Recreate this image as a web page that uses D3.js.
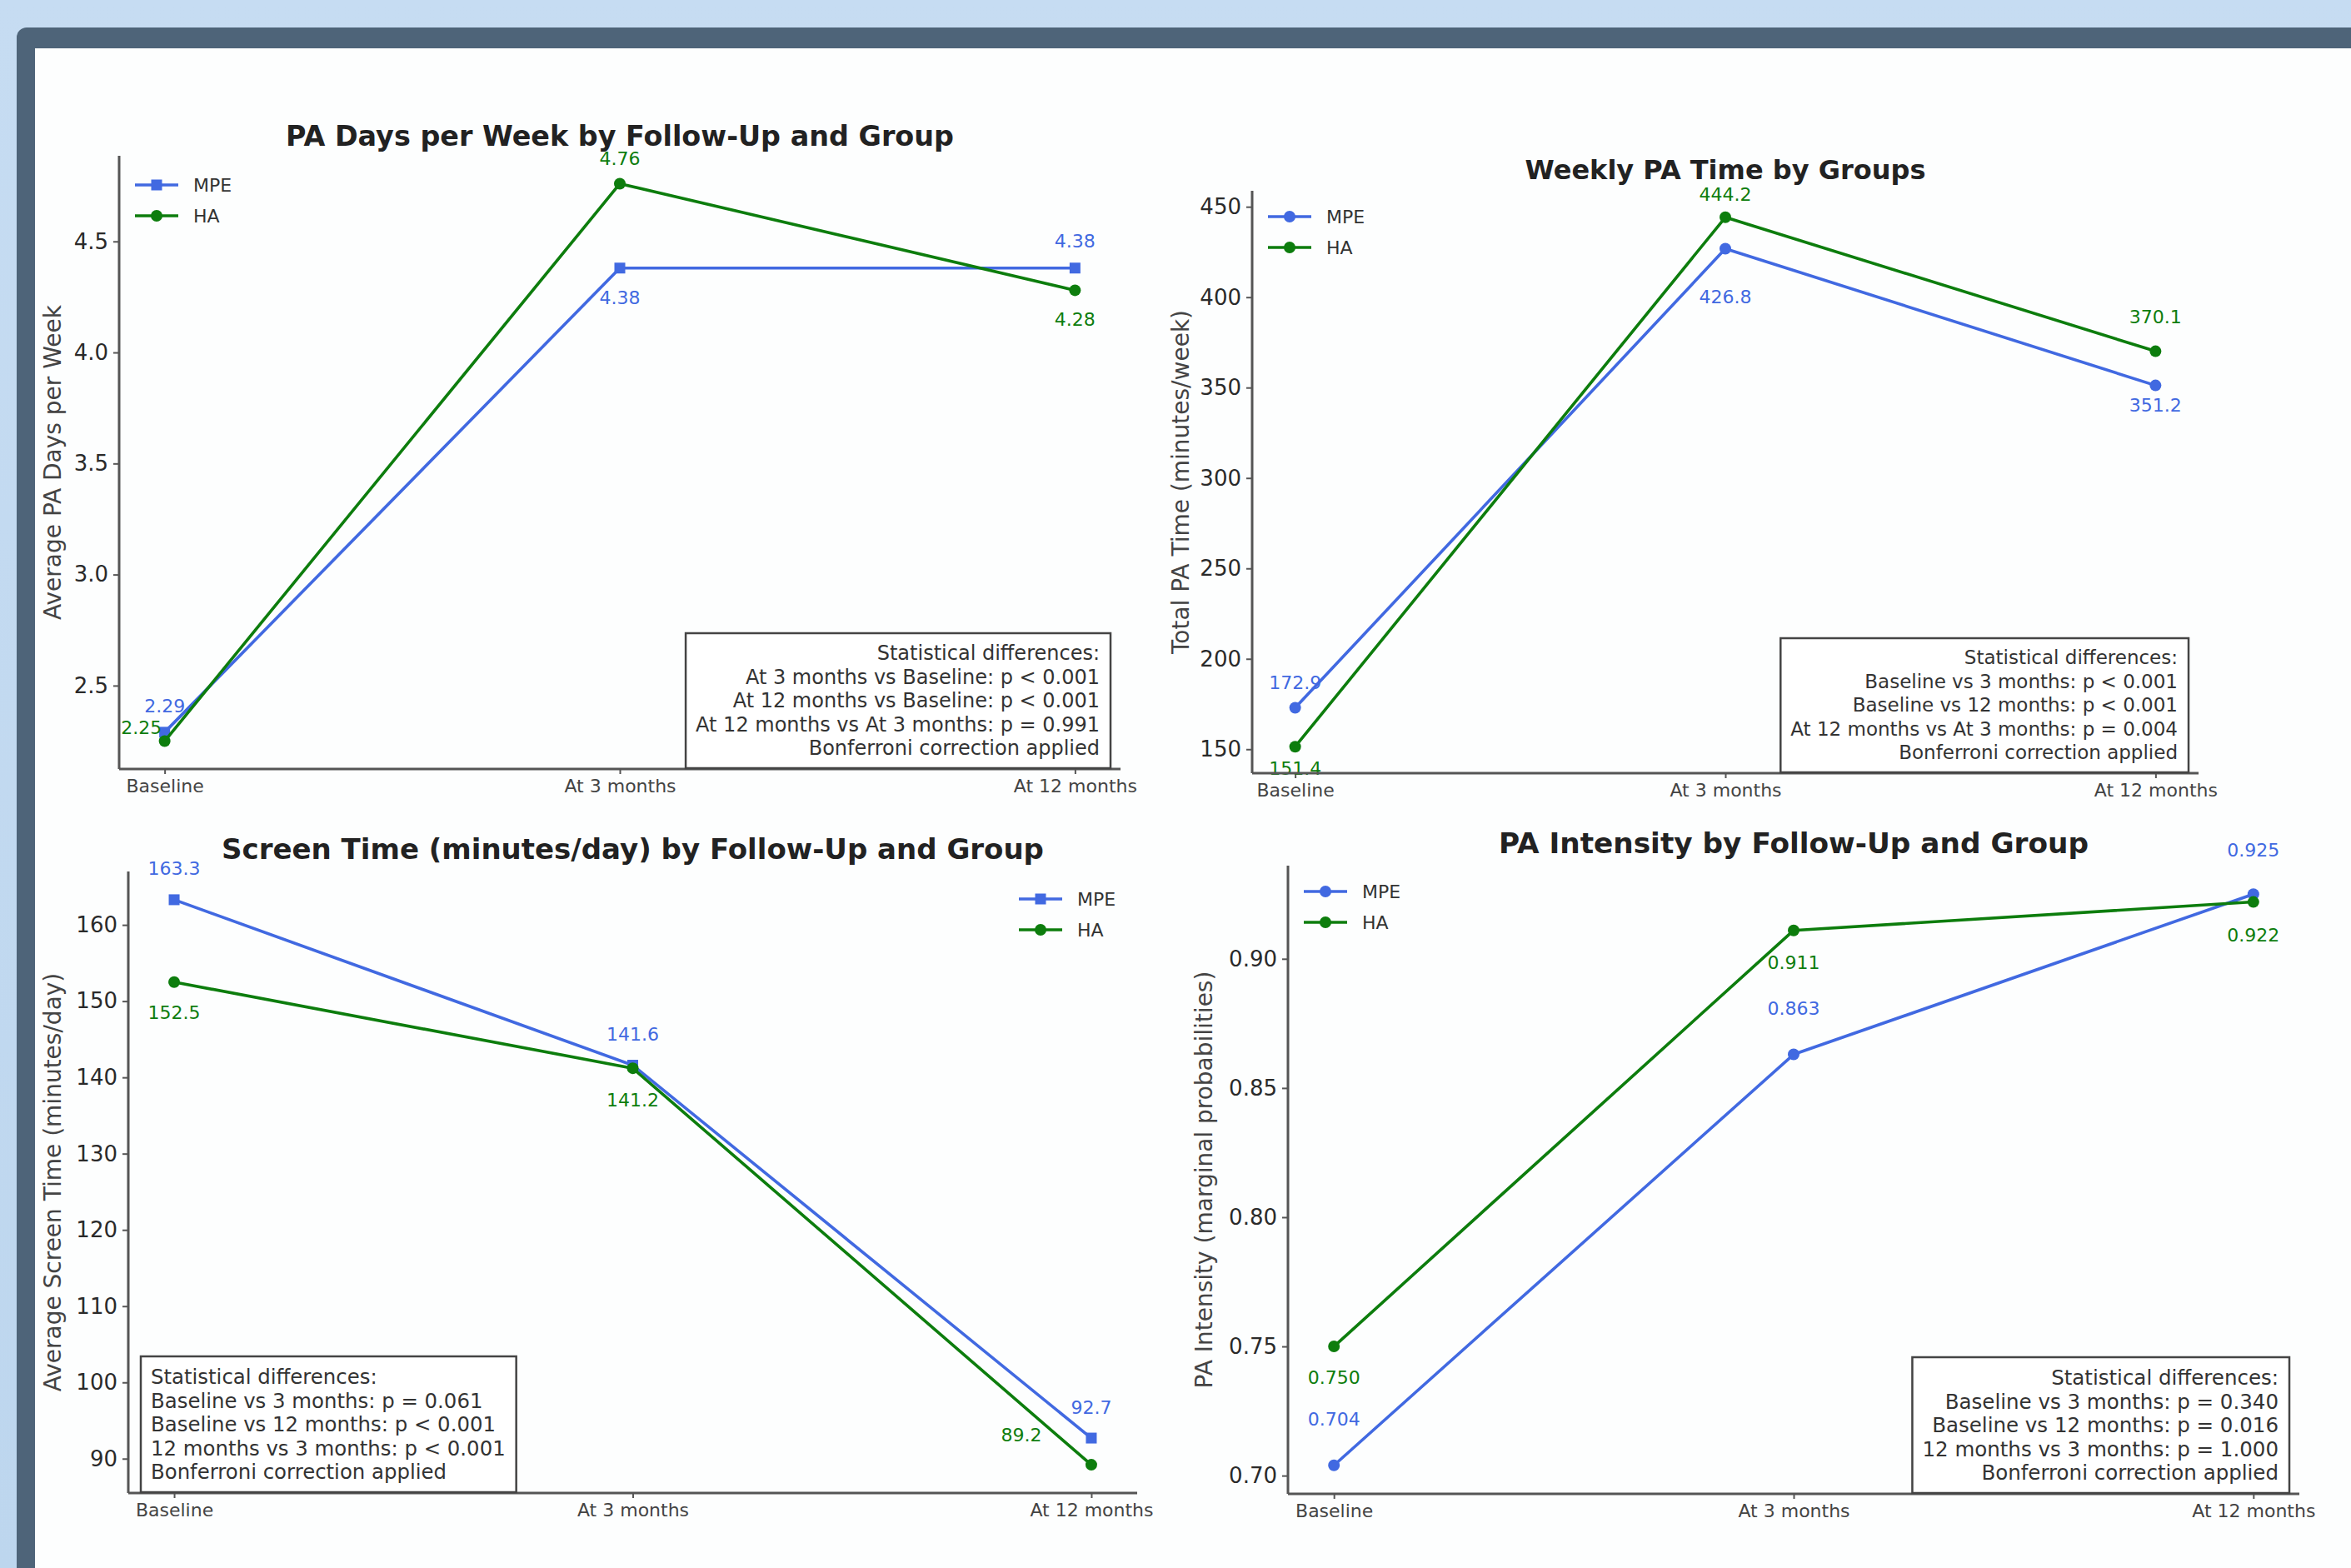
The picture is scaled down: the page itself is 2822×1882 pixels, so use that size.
<!DOCTYPE html>
<html>
<head>
<meta charset="utf-8">
<script src="https://cdn.jsdelivr.net/npm/d3@7"></script>
<style>
  html, body { margin: 0; padding: 0; background: #c3daf0; }
  svg { display: block; }
</style>
</head>
<body>
<svg id="chart" width="2822" height="1882"></svg>
<script>
// ---------------- DATA ----------------
const categories = ["Baseline", "At 3 months", "At 12 months"];
const seriesNames = ["MPE", "HA"];

const paDaysMPE = [2.29, 4.38, 4.38];
const paDaysHA  = [2.25, 4.76, 4.28];
const paDaysTicks = [2.5, 3.0, 3.5, 4.0, 4.5];

const paTimeMPE = [172.9, 426.8, 351.2];
const paTimeHA  = [151.4, 444.2, 370.1];
const paTimeTicks = [150, 200, 250, 300, 350, 400, 450];

const screenMPE = [163.3, 141.6, 92.7];
const screenHA  = [152.5, 141.2, 89.2];
const screenTicks = [90, 100, 110, 120, 130, 140, 150, 160];

const intensityMPE = [0.704, 0.863, 0.925];
const intensityHA  = [0.750, 0.911, 0.922];
const intensityTicks = [0.70, 0.75, 0.80, 0.85, 0.90];

const titles = [
  "PA Days per Week by Follow-Up and Group",
  "Weekly PA Time by Groups",
  "Screen Time (minutes/day) by Follow-Up and Group",
  "PA Intensity by Follow-Up and Group"
];
const yLabels = [
  "Average PA Days per Week",
  "Total PA Time (minutes/week)",
  "Average Screen Time (minutes/day)",
  "PA Intensity (marginal probabilities)"
];
const statsPaDays = [
  "Statistical differences:",
  "At 3 months vs Baseline: p < 0.001",
  "At 12 months vs Baseline: p < 0.001",
  "At 12 months vs At 3 months: p = 0.991",
  "Bonferroni correction applied"
];
const statsPaTime = [
  "Statistical differences:",
  "Baseline vs 3 months: p < 0.001",
  "Baseline vs 12 months: p < 0.001",
  "At 12 months vs At 3 months: p = 0.004",
  "Bonferroni correction applied"
];
const statsScreen = [
  "Statistical differences:",
  "Baseline vs 3 months: p = 0.061",
  "Baseline vs 12 months: p < 0.001",
  "12 months vs 3 months: p < 0.001",
  "Bonferroni correction applied"
];
const statsIntensity = [
  "Statistical differences:",
  "Baseline vs 3 months: p = 0.340",
  "Baseline vs 12 months: p = 0.016",
  "12 months vs 3 months: p = 1.000",
  "Bonferroni correction applied"
];

// ---------------- STYLE / LAYOUT ----------------
const FONT = "'DejaVu Sans', sans-serif";
const BLUE = "#4169e1";
const GREEN = "#0d7d0d";
const AXIS = "#555";

const panels = [
  { title: titles[0], ylabel: yLabels[0], mpe: paDaysMPE, ha: paDaysHA, ticks: paDaysTicks,
    tickFmt: d3.format(".1f"), labFmt: d3.format(".2f"), mpeMarker: "square",
    ax: {l: 143, r: 1345, t: 187, b: 923}, titleY: 175, titleSize: 33.4, ylabX: 63,
    legend: {x: 162, y: 222},
    stats: statsPaDays, statsAlign: "right", statsSize: 24,
    offMPE: [[0,-31],[0,36],[0,-32]], offHA: [[-28,-16],[0,-30],[0,35]] },
  { title: titles[1], ylabel: yLabels[1], mpe: paTimeMPE, ha: paTimeHA, ticks: paTimeTicks,
    tickFmt: d3.format("d"), labFmt: d3.format(".1f"), mpeMarker: "circle",
    ax: {l: 1503, r: 2639, t: 229, b: 928}, titleY: 215, titleSize: 32, ylabX: 1417,
    legend: {x: 1522, y: 260},
    stats: statsPaTime, statsAlign: "right", statsSize: 23,
    offMPE: [[0,-30],[0,58],[0,24]], offHA: [[0,26],[0,-27],[0,-41]] },
  { title: titles[2], ylabel: yLabels[2], mpe: screenMPE, ha: screenHA, ticks: screenTicks,
    tickFmt: d3.format("d"), labFmt: d3.format(".1f"), mpeMarker: "square",
    ax: {l: 154, r: 1365, t: 1046, b: 1792}, titleY: 1031, titleSize: 34, ylabX: 63,
    legend: {x: 1223, y: 1079},
    stats: statsScreen, statsAlign: "left", statsSize: 24.4,
    offMPE: [[0,-37],[0,-37],[0,-37]], offHA: [[0,37],[0,38],[-84,-36]] },
  { title: titles[3], ylabel: yLabels[3], mpe: intensityMPE, ha: intensityHA, ticks: intensityTicks,
    tickFmt: d3.format(".2f"), labFmt: d3.format(".3f"), mpeMarker: "circle",
    ax: {l: 1546, r: 2760, t: 1039, b: 1793}, titleY: 1024, titleSize: 34.3, ylabX: 1445,
    legend: {x: 1565, y: 1070},
    stats: statsIntensity, statsAlign: "right", statsSize: 24.5,
    offMPE: [[0,-55],[0,-55],[0,-53]], offHA: [[0,37],[0,39],[0,40]] }
];

// ---------------- FRAME ----------------
const svg = d3.select("#chart");
const defs = svg.append("defs");
const bgGrad = defs.append("linearGradient").attr("id", "bg").attr("x1", 0).attr("y1", 0).attr("x2", 0).attr("y2", 1);
bgGrad.append("stop").attr("offset", "0").attr("stop-color", "#c6dcf2");
bgGrad.append("stop").attr("offset", "1").attr("stop-color", "#bdd6ee");
svg.append("rect").attr("width", 2822).attr("height", 1882).attr("fill", "url(#bg)");
svg.append("rect").attr("x", 20).attr("y", 33).attr("width", 2840).attr("height", 1900)
  .attr("rx", 12).attr("fill", "#4e6479");
svg.append("rect").attr("x", 42).attr("y", 58).attr("width", 2800).attr("height", 1830)
  .attr("fill", "#fdfefe");

// ---------------- PANELS ----------------
function drawMarker(g, type, x, y, color) {
  if (type === "square") {
    g.append("rect").attr("x", x - 6.5).attr("y", y - 6.5).attr("width", 13).attr("height", 13).attr("fill", color);
  } else {
    g.append("circle").attr("cx", x).attr("cy", y).attr("r", 7).attr("fill", color);
  }
}

panels.forEach(p => {
  const g = svg.append("g");
  const vals = p.mpe.concat(p.ha);
  const mn = d3.min(vals), mx = d3.max(vals), pad = (mx - mn) * 0.05;
  const y = d3.scaleLinear().domain([mn - pad, mx + pad]).range([p.ax.b, p.ax.t]);
  const x = d3.scalePoint().domain(categories).range([p.ax.l, p.ax.r]).padding(0.1);

  // title
  g.append("text").attr("x", (p.ax.l + p.ax.r) / 2).attr("y", p.titleY)
    .attr("text-anchor", "middle").attr("font-family", FONT).attr("font-weight", "bold")
    .attr("font-size", p.titleSize).attr("fill", "#222").text(p.title);

  // y label
  g.append("text").attr("transform", `translate(${p.ylabX},${(p.ax.t + p.ax.b) / 2}) rotate(-90)`)
    .attr("text-anchor", "middle").attr("dominant-baseline", "central")
    .attr("font-family", FONT).attr("font-size", 28).attr("fill", "#444").text(p.ylabel);

  // axes
  const yAxis = d3.axisLeft(y).tickValues(p.ticks).tickFormat(p.tickFmt).tickSize(7).tickPadding(6);
  const gy = g.append("g").attr("transform", `translate(${p.ax.l},0)`).call(yAxis);
  gy.select(".domain").remove();
  gy.selectAll(".tick line").attr("stroke", AXIS).attr("stroke-width", 2);
  gy.selectAll(".tick text").attr("font-family", FONT).attr("font-size", 26).attr("fill", "#2a2a2a");
  g.append("line").attr("x1", p.ax.l).attr("x2", p.ax.l).attr("y1", p.ax.t).attr("y2", p.ax.b)
    .attr("stroke", AXIS).attr("stroke-width", 3);

  const xAxis = d3.axisBottom(x).tickSize(6).tickPadding(6);
  const gx = g.append("g").attr("transform", `translate(0,${p.ax.b})`).call(xAxis);
  gx.select(".domain").remove();
  gx.selectAll(".tick line").attr("stroke", AXIS).attr("stroke-width", 2);
  gx.selectAll(".tick text").attr("font-family", FONT).attr("font-size", 22).attr("fill", "#444");

  // series
  const series = [
    {name: seriesNames[0], vals: p.mpe, color: BLUE, marker: p.mpeMarker, off: p.offMPE},
    {name: seriesNames[1], vals: p.ha, color: GREEN, marker: "circle", off: p.offHA}
  ];
  const line = d3.line().x((d, i) => x(categories[i])).y(d => y(d));
  series.forEach(s => {
    g.append("path").datum(s.vals).attr("d", line).attr("fill", "none")
      .attr("stroke", s.color).attr("stroke-width", 3.6).attr("stroke-linejoin", "round");
    s.vals.forEach((v, i) => drawMarker(g, s.marker, x(categories[i]), y(v), s.color));
    s.vals.forEach((v, i) => {
      g.append("text").attr("x", x(categories[i]) + s.off[i][0]).attr("y", y(v) + s.off[i][1])
        .attr("text-anchor", "middle").attr("dominant-baseline", "central")
        .attr("font-family", FONT).attr("font-size", 22).attr("fill", s.color)
        .text(p.labFmt(v));
    });
  });

  // bottom spine on top
  g.append("line").attr("x1", p.ax.l).attr("x2", p.ax.r).attr("y1", p.ax.b).attr("y2", p.ax.b)
    .attr("stroke", AXIS).attr("stroke-width", 3);

  // legend
  series.forEach((s, i) => {
    const ly = p.legend.y + i * 37;
    g.append("line").attr("x1", p.legend.x).attr("x2", p.legend.x + 52).attr("y1", ly).attr("y2", ly)
      .attr("stroke", s.color).attr("stroke-width", 3.6);
    drawMarker(g, s.marker, p.legend.x + 26, ly, s.color);
    g.append("text").attr("x", p.legend.x + 70).attr("y", ly).attr("dominant-baseline", "central")
      .attr("font-family", FONT).attr("font-size", 22).attr("fill", "#333").text(s.name);
  });

  // stats box
  const sg = g.append("g");
  const lineH = 28.5;
  const boxBottom = p.ax.b - 1;
  const right = p.statsAlign === "right";
  const tx = right ? p.ax.r - 12 - 13 : p.ax.l + 16 + 11;
  const txt = sg.append("text").attr("font-family", FONT).attr("font-size", p.statsSize).attr("fill", "#333")
    .attr("text-anchor", right ? "end" : "start");
  p.stats.forEach((s, i) => {
    txt.append("tspan").attr("x", tx).attr("y", boxBottom - 16 - (p.stats.length - 1 - i) * lineH).text(s);
  });
  const bb = txt.node().getBBox();
  sg.insert("rect", "text").attr("x", bb.x - 12).attr("y", bb.y - 10)
    .attr("width", bb.width + 25).attr("height", boxBottom - (bb.y - 10))
    .attr("fill", "#fff").attr("stroke", "#444").attr("stroke-width", 2.5);
});
</script>
</body>
</html>
